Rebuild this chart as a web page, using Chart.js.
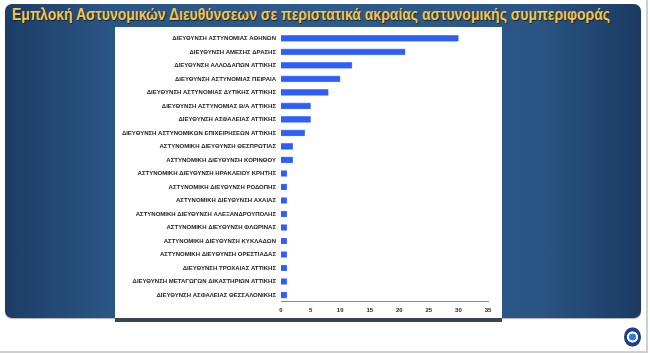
<!DOCTYPE html>
<html><head><meta charset="utf-8">
<script src="https://cdn.jsdelivr.net/npm/chart.js@4.4.1/dist/chart.umd.min.js"></script>
<style>
html,body{margin:0;padding:0;background:#fff;width:650px;height:354px;overflow:hidden;position:relative;font-family:"Liberation Sans",Arial,sans-serif;}
#page{position:absolute;left:0;top:0;width:646px;height:351px;border-right:2px solid #cfcfcf;border-bottom:2px solid #cfcfcf;box-sizing:content-box;}
#panel{position:absolute;left:5px;top:4px;width:636px;height:314px;border-radius:7px;
background:linear-gradient(90deg,#1c3d66 0%,#2a5686 17%,#2d5b8b 50%,#2a5686 83%,#1b3a62 100%);box-shadow:0 1px 1px rgba(0,0,0,.3);}
#title{position:absolute;left:12px;top:5px;font-family:"Liberation Sans",Arial,sans-serif;font-weight:bold;font-size:17px;color:#f6c548;white-space:nowrap;text-shadow:1px 1px 1px #0d2440;transform-origin:0 0;}
#white{position:absolute;left:115px;top:27px;width:387px;height:291px;background:#fff;border-bottom:4px solid #3b4552;}
#wrap{position:absolute;left:115px;top:23px;width:387px;height:295px;}
#logo{position:absolute;left:624px;top:327px;width:17px;height:20px;border-radius:50%;
background:radial-gradient(circle at 50% 50%,#2a7de0 0 25%,#ffffff 28% 40%,#1f3f8a 45% 70%,#c9cfe0 75%,#1f3f8a 100%);}
</style></head>
<body>
<div id="page"></div>
<div id="panel"></div>
<div id="title">Εμπλοκή Αστυνομικών Διευθύνσεων σε περιστατικά ακραίας αστυνομικής συμπεριφοράς</div>
<div id="white"></div>
<div id="wrap"><canvas id="c"></canvas></div>
<div id="logo"></div>
<script>
const categories = [
"ΔΙΕΥΘΥΝΣΗ ΑΣΤΥΝΟΜΙΑΣ ΑΘΗΝΩΝ",
"ΔΙΕΥΘΥΝΣΗ ΑΜΕΣΗΣ ΔΡΑΣΗΣ",
"ΔΙΕΥΘΥΝΣΗ ΑΛΛΟΔΑΠΩΝ ΑΤΤΙΚΗΣ",
"ΔΙΕΥΘΥΝΣΗ ΑΣΤΥΝΟΜΙΑΣ ΠΕΙΡΑΙΑ",
"ΔΙΕΥΘΥΝΣΗ ΑΣΤΥΝΟΜΙΑΣ ΔΥΤΙΚΗΣ ΑΤΤΙΚΗΣ",
"ΔΙΕΥΘΥΝΣΗ ΑΣΤΥΝΟΜΙΑΣ Β/Α ΑΤΤΙΚΗΣ",
"ΔΙΕΥΘΥΝΣΗ ΑΣΦΑΛΕΙΑΣ ΑΤΤΙΚΗΣ",
"ΔΙΕΥΘΥΝΣΗ ΑΣΤΥΝΟΜΙΚΩΝ ΕΠΙΧΕΙΡΗΣΕΩΝ ΑΤΤΙΚΗΣ",
"ΑΣΤΥΝΟΜΙΚΗ ΔΙΕΥΘΥΝΣΗ ΘΕΣΠΡΩΤΙΑΣ",
"ΑΣΤΥΝΟΜΙΚΗ ΔΙΕΥΘΥΝΣΗ ΚΟΡΙΝΘΟΥ",
"ΑΣΤΥΝΟΜΙΚΗ ΔΙΕΥΘΥΝΣΗ ΗΡΑΚΛΕΙΟΥ ΚΡΗΤΗΣ",
"ΑΣΤΥΝΟΜΙΚΗ ΔΙΕΥΘΥΝΣΗ ΡΟΔΟΠΗΣ",
"ΑΣΤΥΝΟΜΙΚΗ ΔΙΕΥΘΥΝΣΗ ΑΧΑΙΑΣ",
"ΑΣΤΥΝΟΜΙΚΗ ΔΙΕΥΘΥΝΣΗ ΑΛΕΞΑΝΔΡΟΥΠΟΛΗΣ",
"ΑΣΤΥΝΟΜΙΚΗ ΔΙΕΥΘΥΝΣΗ ΦΛΩΡΙΝΑΣ",
"ΑΣΤΥΝΟΜΙΚΗ ΔΙΕΥΘΥΝΣΗ ΚΥΚΛΑΔΩΝ",
"ΑΣΤΥΝΟΜΙΚΗ ΔΙΕΥΘΥΝΣΗ ΟΡΕΣΤΙΑΔΑΣ",
"ΔΙΕΥΘΥΝΣΗ ΤΡΟΧΑΙΑΣ ΑΤΤΙΚΗΣ",
"ΔΙΕΥΘΥΝΣΗ ΜΕΤΑΓΩΓΩΝ ΔΙΚΑΣΤΗΡΙΩΝ ΑΤΤΙΚΗΣ",
"ΔΙΕΥΘΥΝΣΗ ΑΣΦΑΛΕΙΑΣ ΘΕΣΣΑΛΟΝΙΚΗΣ"
];
const incidents = [30,21,12,10,8,5,5,4,2,2,1,1,1,1,1,1,1,1,1,1];
const xTicks = [0,5,10,15,20,25,30,35];

// fit title width to the reference (~598px)
(function(){ const t=document.getElementById('title'); const w=t.getBoundingClientRect().width; t.style.transform='scaleX('+(598/w)+')'; })();

new Chart(document.getElementById('c'), {
  type: 'bar',
  data: { labels: categories, datasets: [{ data: incidents, backgroundColor: '#2f5df7', borderColor: '#6f8ffa', borderWidth: 0.6, barThickness: 6 }] },
  options: {
    indexAxis: 'y', responsive: true, maintainAspectRatio: false, animation: false,
    layout: { padding: { left: 0, right: 14, top: 0, bottom: 2 } },
    plugins: { legend: { display: false }, tooltip: { enabled: false } },
    scales: {
      x: { min: 0, max: 35, afterBuildTicks: s => { s.ticks = xTicks.map(v => ({value: v})); },
        grid: { display: false, drawOnChartArea: false, drawTicks: true, tickLength: 3, color: '#8a8a8a' },
        border: { display: true, color: '#8a8a8a', width: 1 },
        ticks: { font: { size: 6, weight: 'bold', family: 'Liberation Sans' }, color: '#222', padding: 2, maxRotation: 0 } },
      y: { afterFit: s => { s.width = 166; },
        grid: { display: false, drawTicks: false },
        border: { display: false },
        ticks: { font: { size: 6, weight: 'bold', family: 'Liberation Sans' }, color: '#222', padding: 5, autoSkip: false } }
    }
  }
});
</script>
</body></html>
